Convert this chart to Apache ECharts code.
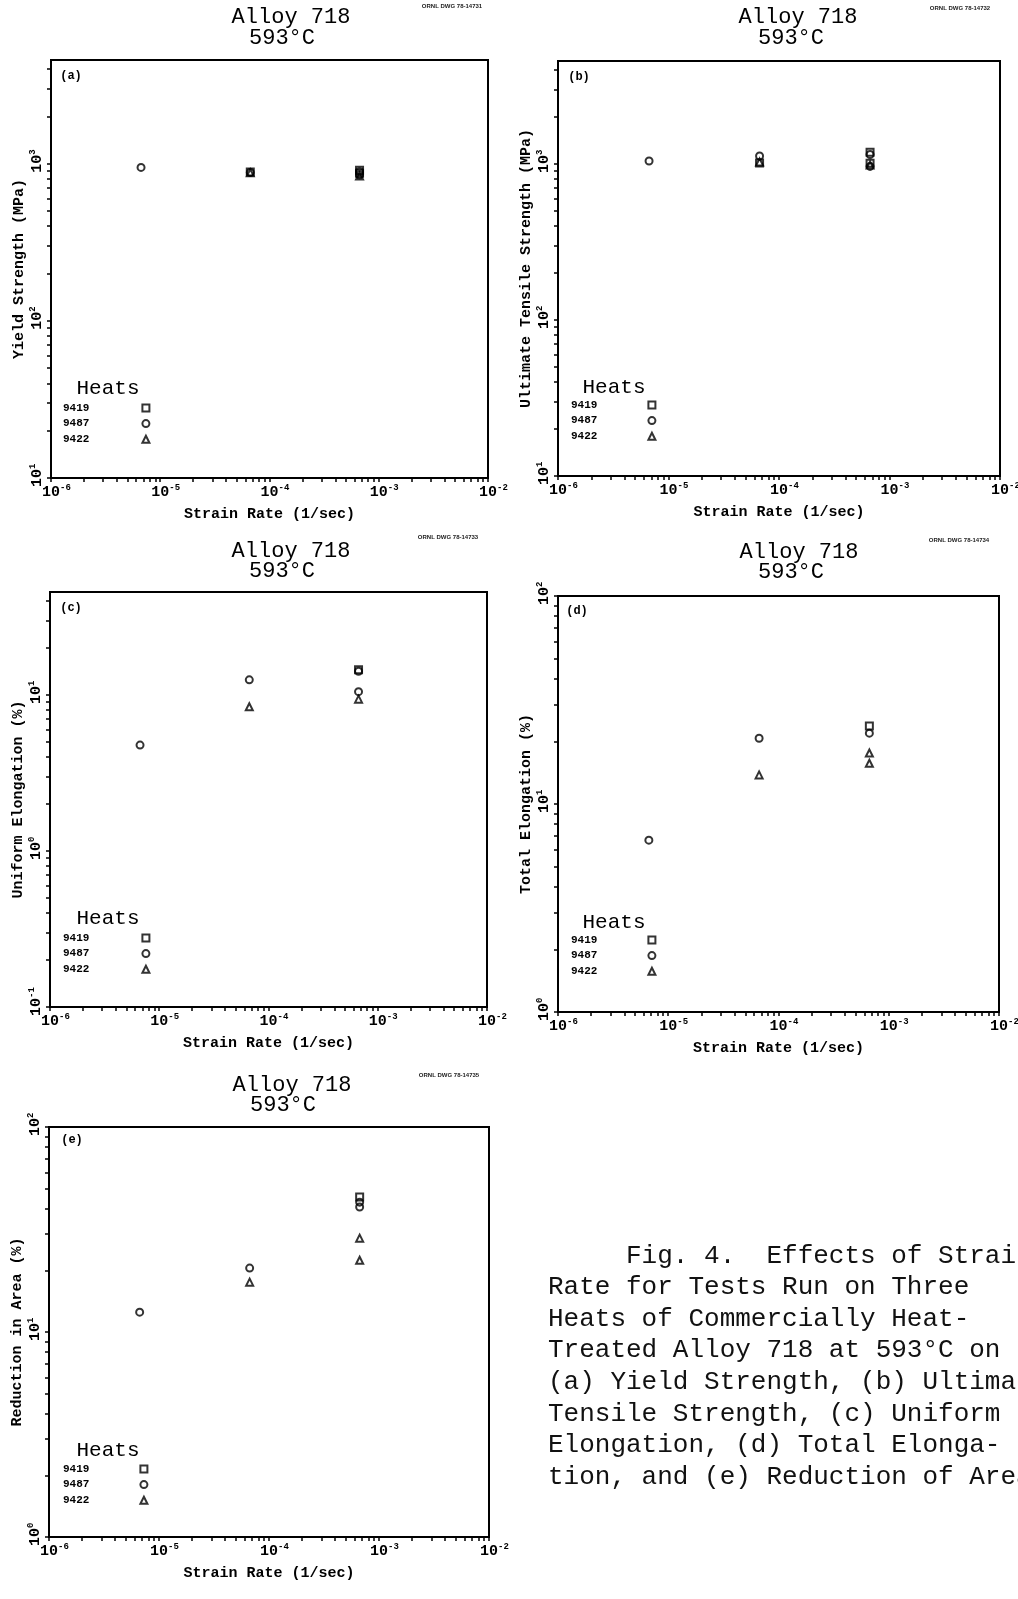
<!DOCTYPE html>
<html><head><meta charset="utf-8">
<script src="https://cdn.jsdelivr.net/npm/echarts@6/dist/echarts.min.js"></script>
<style>html,body{margin:0;padding:0;background:#fff}#chart{width:1018px;height:1599px}</style>
</head><body><div id="chart"></div>
<script>
// ---------------- data ----------------
const heats = ['9419', '9487', '9422'];
const strainRateDecades = [1e-6, 1e-5, 1e-4, 1e-3, 1e-2];

// (a) Yield strength (MPa): [strain rate (1/sec), value]
const yield9419 = [[6.67e-5, 885], [6.67e-4, 910], [6.67e-4, 870]];
const yield9487 = [[6.67e-6, 947], [6.67e-5, 880], [6.67e-4, 890], [6.67e-4, 850]];
const yield9422 = [[6.67e-5, 875], [6.67e-4, 835]];
// (b) Ultimate tensile strength (MPa)
const uts9419 = [[6.67e-5, 1015], [6.67e-4, 1190], [6.67e-4, 1010]];
const uts9487 = [[6.67e-6, 1045], [6.67e-5, 1125], [6.67e-4, 1150], [6.67e-4, 965]];
const uts9422 = [[6.67e-5, 1030], [6.67e-4, 985]];
// (c) Uniform elongation (%)
const ue9419 = [[6.67e-4, 14.5]];
const ue9487 = [[6.67e-6, 4.77], [6.67e-5, 12.5], [6.67e-4, 14.2], [6.67e-4, 10.5]];
const ue9422 = [[6.67e-5, 8.4], [6.67e-4, 9.4]];
// (d) Total elongation (%)
const te9419 = [[6.67e-4, 23.7]];
const te9487 = [[6.67e-6, 6.7], [6.67e-5, 20.7], [6.67e-4, 21.9]];
const te9422 = [[6.67e-5, 13.8], [6.67e-4, 17.6], [6.67e-4, 15.7]];
// (e) Reduction in area (%)
const ra9419 = [[6.67e-4, 45.6]];
const ra9487 = [[6.67e-6, 12.5], [6.67e-5, 20.5], [6.67e-4, 43.0], [6.67e-4, 40.7]];
const ra9422 = [[6.67e-5, 17.5], [6.67e-4, 28.7], [6.67e-4, 22.4]];

// y-axis decade labels
const yTicksA = [10, 100, 1000];
const yTicksB = [10, 100, 1000];
const yTicksC = [0.1, 1, 10];
const yTicksD = [1, 10, 100];
const yTicksE = [1, 10, 100];

const captionLines = [
  '     Fig. 4.  Effects of Strain',
  'Rate for Tests Run on Three',
  'Heats of Commercially Heat-',
  'Treated Alloy 718 at 593\u00B0C on',
  '(a) Yield Strength, (b) Ultimate',
  'Tensile Strength, (c) Uniform',
  'Elongation, (d) Total Elonga-',
  'tion, and (e) Reduction of Area.'
];

// ---------------- layout ----------------
const panels = [
  { tag: '(a)', dwg: 'ORNL DWG 78-14731', grid: [51, 60, 437, 418], y: [10, 4571], yTicks: yTicksA,
    yName: 'Yield Strength (MPa)', series: [yield9419, yield9487, yield9422],
    t1: [291, 17], t2: [282, 38], tagPos: [71, 76], heatsPos: [108, 388], dwgPos: [452, 6],
    legend: [63, 402.5, 48] },
  { tag: '(b)', dwg: 'ORNL DWG 78-14732', grid: [558, 61, 442, 415], y: [10, 4571], yTicks: yTicksB,
    yName: 'Ultimate Tensile Strength (MPa)', series: [uts9419, uts9487, uts9422],
    t1: [798, 17], t2: [791, 38], tagPos: [579, 77], heatsPos: [614, 387], dwgPos: [960, 8],
    legend: [571, 399.5, 46] },
  { tag: '(c)', dwg: 'ORNL DWG 78-14733', grid: [50, 592, 437, 415], y: [0.1, 45.7], yTicks: yTicksC,
    yName: 'Uniform Elongation (%)', series: [ue9419, ue9487, ue9422],
    t1: [291, 551], t2: [282, 571], tagPos: [71, 608], heatsPos: [108, 918], dwgPos: [448, 537],
    legend: [63, 932.5, 48] },
  { tag: '(d)', dwg: 'ORNL DWG 78-14734', grid: [558, 596, 441, 416], y: [1, 100], yTicks: yTicksD,
    yName: 'Total Elongation (%)', series: [te9419, te9487, te9422],
    t1: [799, 552], t2: [791, 572], tagPos: [577, 611], heatsPos: [614, 922], dwgPos: [959, 540],
    legend: [571, 934.5, 46] },
  { tag: '(e)', dwg: 'ORNL DWG 78-14735', grid: [49, 1127, 440, 410], y: [1, 100], yTicks: yTicksE,
    yName: 'Reduction in Area (%)', series: [ra9419, ra9487, ra9422],
    t1: [292, 1085], t2: [283, 1105], tagPos: [72, 1140], heatsPos: [108, 1450], dwgPos: [449, 1075],
    legend: [63, 1463.5, 46] }
];
const heatSymbols = ['rect', 'circle', 'triangle'];

const MONO = '"Liberation Mono", "DejaVu Sans Mono", monospace';

function logTicks(min, max) {
  const out = [];
  const e0 = Math.floor(Math.log10(min) + 1e-9), e1 = Math.ceil(Math.log10(max) - 1e-9);
  for (let e = e0; e <= e1; e++) {
    for (let k = 1; k <= 9; k++) {
      const v = parseFloat((k * Math.pow(10, e)).toPrecision(6));
      if (v >= min * 0.999999 && v <= max * 1.000001) out.push(v);
    }
  }
  return out;
}
function powLabel(v) {
  const e = String(Math.round(Math.log10(v)));
  return '{p' + e.length + '| }{b|10}{s|' + e + '}';
}
const labelRich = {
  b: { fontFamily: MONO, fontWeight: 'bold', fontSize: 15, lineHeight: 19, color: '#000' },
  s: { fontFamily: MONO, fontWeight: 'bold', fontSize: 9, lineHeight: 9, color: '#000', verticalAlign: 'top' },
  p1: { width: 5.4, fontSize: 9 },
  p2: { width: 10.8, fontSize: 9 }
};

const grids = [], xAxes = [], yAxes = [], series = [], legends = [], graphics = [];
panels.forEach((p, i) => {
  grids.push({ left: p.grid[0], top: p.grid[1], width: p.grid[2], height: p.grid[3],
    show: true, borderColor: '#000', borderWidth: 2, backgroundColor: 'transparent',
    containLabel: false, outerBoundsMode: 'none' });
  xAxes.push({
    type: 'log', logBase: 10, gridIndex: i, min: 1e-6, max: 1e-2, position: 'bottom',
    axisLine: { show: true, lineStyle: { color: '#000', width: 2 } },
    axisTick: { show: true, customValues: logTicks(1e-6, 1e-2), length: 4, lineStyle: { color: '#000', width: 1.5 } },
    axisLabel: { customValues: strainRateDecades, formatter: powLabel, rich: labelRich, margin: 5 },
    splitLine: { show: false }, minorTick: { show: false },
    name: 'Strain Rate (1/sec)', nameLocation: 'middle', nameGap: 29,
    nameTextStyle: { fontFamily: MONO, fontWeight: 'bold', fontSize: 15, color: '#000' }
  });
  yAxes.push({
    type: 'log', logBase: 10, gridIndex: i, min: p.y[0], max: p.y[1], position: 'left',
    axisLine: { show: true, lineStyle: { color: '#000', width: 2 } },
    axisTick: { show: true, customValues: logTicks(p.y[0], p.y[1]), length: 4, lineStyle: { color: '#000', width: 1.5 } },
    axisLabel: { customValues: p.yTicks, formatter: powLabel, rich: labelRich, margin: 4, rotate: 90 },
    splitLine: { show: false }, minorTick: { show: false },
    name: p.yName, nameLocation: 'middle', nameRotate: 90, nameGap: 18,
    nameTextStyle: { fontFamily: MONO, fontWeight: 'bold', fontSize: 15, color: '#000' }
  });
  heats.forEach((h, k) => {
    series.push({
      type: 'scatter', name: h, xAxisIndex: i, yAxisIndex: i, data: p.series[k],
      symbol: heatSymbols[k], symbolSize: 7,
      itemStyle: { color: 'rgba(255,255,255,0)', borderColor: '#000', borderWidth: 2 },
      emphasis: { disabled: true }, silent: true
    });
  });
  legends.push({
    orient: 'vertical', left: p.legend[0], top: p.legend[1], align: 'right',
    itemWidth: 7, itemHeight: 7, itemGap: 4.6, selectedMode: false, padding: 0,
    data: heats,
    itemStyle: { color: 'rgba(255,255,255,0)', borderColor: '#000', borderWidth: 2 },
    textStyle: { fontFamily: MONO, fontWeight: 'bold', fontSize: 11, color: '#000', lineHeight: 7,
      padding: [0, p.legend[2], 0, 0] }
  });
  graphics.push(
    { type: 'text', x: p.t1[0], y: p.t1[1], silent: true,
      style: { text: 'Alloy 718', font: '22px ' + MONO, fill: '#000', align: 'center', verticalAlign: 'middle' } },
    { type: 'text', x: p.t2[0], y: p.t2[1], silent: true,
      style: { text: '593\u00B0C', font: '22px ' + MONO, fill: '#000', align: 'center', verticalAlign: 'middle' } },
    { type: 'text', x: p.tagPos[0], y: p.tagPos[1], silent: true,
      style: { text: p.tag, font: 'bold 12px ' + MONO, fill: '#000', align: 'center', verticalAlign: 'middle' } },
    { type: 'text', x: p.heatsPos[0], y: p.heatsPos[1], silent: true,
      style: { text: 'Heats', font: '21px ' + MONO, fill: '#000', align: 'center', verticalAlign: 'middle' } },
    { type: 'text', x: p.dwgPos[0], y: p.dwgPos[1], silent: true,
      style: { text: p.dwg, font: 'bold 6px "Liberation Sans", sans-serif', fill: '#222', align: 'center', verticalAlign: 'middle' } }
  );
});
graphics.push({ type: 'text', x: 548, y: 1240, silent: true,
  style: { text: captionLines.join('\n'), font: '26px ' + MONO, lineHeight: 31.6, fill: '#111', align: 'left', verticalAlign: 'top' } });

const chart = echarts.init(document.getElementById('chart'), null, { renderer: 'canvas' });
chart.setOption({
  animation: false,
  backgroundColor: '#fff',
  grid: grids, xAxis: xAxes, yAxis: yAxes, series: series, legend: legends,
  graphic: { elements: graphics }
});
</script></body></html>
